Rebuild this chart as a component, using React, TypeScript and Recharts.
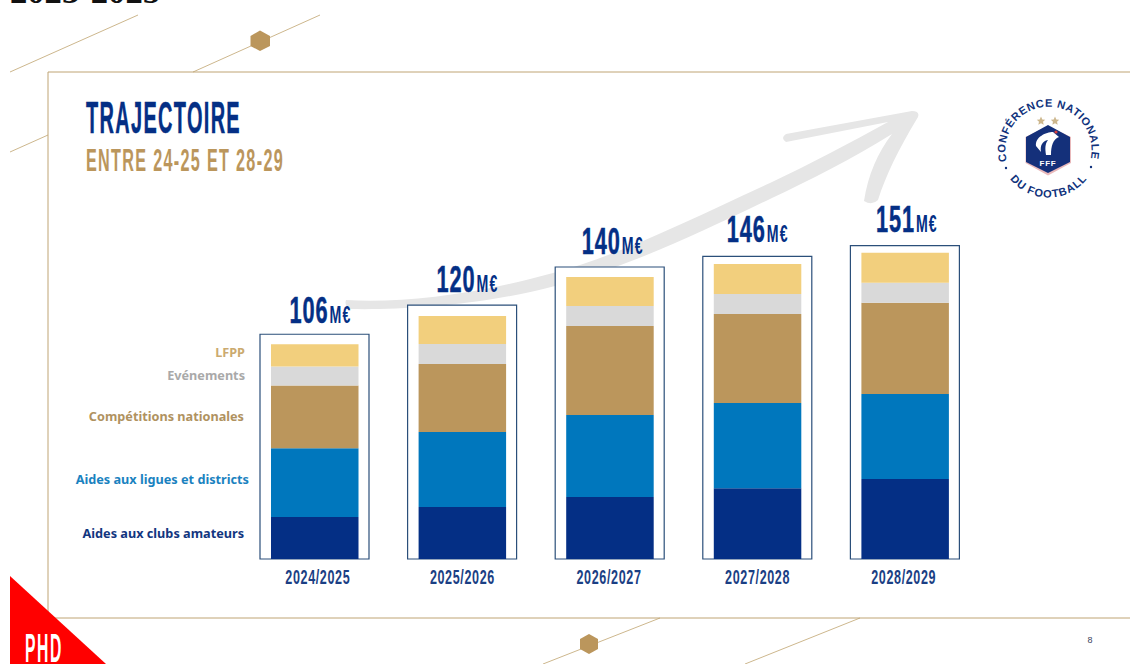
import React from "react";
import { Bar, BarChart, LabelList, XAxis, YAxis } from "recharts";

const seasons = ["2024/2025", "2025/2026", "2026/2027", "2027/2028", "2028/2029"];
const clubsAmateurs = [20.7, 25.7, 30.6, 35, 39.5];
const liguesDistricts = [34, 37, 40.5, 42, 42];
const competitions = [31, 33.6, 44, 44, 45];
const evenements = [9.4, 9.9, 9.9, 9.9, 9.9];
const lfpp = [10.9, 13.8, 14.3, 14.8, 14.8];
// hauteur du cadre autour de chaque colonne, en M€
const cadre = [111, 125.4, 144.2, 149.4, 154.8];
const totals = [106, 120, 140, 146, 151];

const legendLabels = ["LFPP", "Evénements", "Compétitions nationales", "Aides aux ligues et districts", "Aides aux clubs amateurs"];

const NAVY = "#042f85";
const GOLD = "#bb965c";
const FONT = "'Liberation Sans', Arial, sans-serif";

const chartData = seasons.map((season, i) => ({
  season,
  clubs: clubsAmateurs[i],
  ligues: liguesDistricts[i],
  competitions: competitions[i],
  evenements: evenements[i],
  lfpp: lfpp[i],
  cadre: cadre[i],
  total: totals[i],
}));

// petits decalages des textes par rapport aux colonnes
const totalDx = [6, 5.5, 3, 0.5, 2];
const totalDy = [11, 13, 13, 14, 14];
const tickDx = [3, 0, -1, 0, -1.5];

function SeasonTick({ x, y, payload, index }: any) {
  return (
    <text
      x={x + tickDx[index ?? payload.index ?? 0]}
      y={y + 17}
      textAnchor="middle"
      textLength={65}
      lengthAdjust="spacingAndGlyphs"
      letterSpacing={1}
      fontFamily={FONT}
      fontWeight={700}
      fontSize={20}
      fill="#1b3f84"
    >
      {payload.value}
    </text>
  );
}

function TotalLabel({ x, y, width, index }: any) {
  const cx = x + width / 2 + totalDx[index];
  const base = y - totalDy[index];
  return (
    <g>
      <text
        x={cx - 31}
        y={base}
        textLength={39}
        lengthAdjust="spacingAndGlyphs"
        letterSpacing={1.5}
        fontFamily={FONT}
        fontWeight={700}
        fontSize={36}
        fill={NAVY}
        stroke={NAVY}
        strokeWidth={0.5}
      >
        {totals[index]}
      </text>
      <text
        x={cx + 9}
        y={base}
        textLength={22}
        lengthAdjust="spacingAndGlyphs"
        letterSpacing={2}
        fontFamily={FONT}
        fontWeight={700}
        fontSize={24}
        fill={NAVY}
      >
        M€
      </text>
    </g>
  );
}

function Backdrop() {
  return (
    <svg width={1130} height={664} style={{ position: "absolute", left: 0, top: 0 }}>
      <text x={10} y={3} fontFamily="'Liberation Serif', serif" fontWeight={700} fontSize={34} fill="#111" textLength={150} lengthAdjust="spacingAndGlyphs">
        2023-2025
      </text>

      <g stroke="#cdb78d" strokeWidth={1} fill="none">
        <line x1={10} y1={72} x2={138} y2={15} />
        <line x1={193} y1={72} x2={320} y2={15} />
        <line x1={10} y1={152} x2={48} y2={135} />
        <line x1={543} y1={664} x2={660} y2={618} />
        <line x1={745} y1={664} x2={860} y2={618} />
      </g>
      <g stroke="#bfa475" strokeWidth={1} fill="none">
        <line x1={48} y1={72} x2={1130} y2={72} />
        <line x1={48} y1={72} x2={48} y2={612} />
        <line x1={48} y1={618} x2={1130} y2={618} />
      </g>
      <polygon points="260,30.5 270,36 270,46 260,51 250.5,46 250.5,36" fill={GOLD} />
      <polygon points="589,634 598,639 598,649 589,654 580,649 580,639" fill={GOLD} />

      <path
        d="M346 300 C 400 303, 470 296, 553 273 C 620 255, 690 220, 770 183 C 810 164, 850 143, 888 122 L 786 142 Q 780 138, 786 134 L 912 111 Q 920 111, 918 117 C 898 150, 886 175, 878 200 Q 872 206, 864 201 C 868 175, 878 152, 892 134 C 850 160, 810 180, 772 198 C 695 235, 625 268, 555 286 C 480 306, 400 310, 350 309 Q 344 306, 346 300 Z"
        fill="#e6e6e6"
      />

      <text x={86} y={133} textLength={155} lengthAdjust="spacingAndGlyphs" letterSpacing={3} fontFamily={FONT} fontWeight={700} fontSize={45} fill={NAVY} stroke={NAVY} strokeWidth={0.5}>
        TRAJECTOIRE
      </text>
      <text x={86} y={171} textLength={198} lengthAdjust="spacingAndGlyphs" letterSpacing={2.5} fontFamily={FONT} fontWeight={700} fontSize={31} fill={GOLD}>
        ENTRE 24-25 ET 28-29
      </text>

      <g fontFamily="'Noto Sans', sans-serif" fontWeight={700} fontSize={12.7} textAnchor="end">
        <text x={245} y={357} fill="#cbaa6f">{legendLabels[0]}</text>
        <text x={245} y={380} fill="#a9a9a9">{legendLabels[1]}</text>
        <text x={244} y={421} fill="#b0925f">{legendLabels[2]}</text>
        <text x={249} y={484} fill="#1a82c0">{legendLabels[3]}</text>
        <text x={244} y={538} fill="#12367f">{legendLabels[4]}</text>
      </g>

      <polygon points="10,576 106,664 10,664" fill="#ff0000" />
      <text x={25} y={662} textLength={38} lengthAdjust="spacingAndGlyphs" letterSpacing={4} fontFamily={FONT} fontWeight={700} fontSize={40} fill="#ffffff">
        PHD
      </text>
      <text x={1090} y={643} textAnchor="middle" fontFamily={FONT} fontSize={9} fill="#3a3f5c">
        8
      </text>

      <Logo />
    </svg>
  );
}

function Logo() {
  return (
    <g>
      <defs>
        <path id="arcTop" d="M1007 161 A 43 43 0 1 1 1090 161" />
        <path id="arcBottom" d="M1006 173 A 49 49 0 0 0 1091 173" />
      </defs>
      <text fontFamily={FONT} fontWeight={700} fontSize={11} fill="#10327c">
        <textPath href="#arcTop" textLength={155} lengthAdjust="spacing">CONFÉRENCE NATIONALE</textPath>
      </text>
      <text fontFamily={FONT} fontWeight={700} fontSize={11} fill="#10327c">
        <textPath href="#arcBottom" textLength={88} lengthAdjust="spacing" startOffset={7}>DU FOOTBALL</textPath>
      </text>
      <circle cx={1006} cy={168} r={1.2} fill="#10327c" />
      <circle cx={1091} cy={167} r={1.2} fill="#10327c" />
      <polygon points="1041,116.5 1042.3,119.5 1045.2,119.8 1043,121.8 1043.7,124.8 1041,123.2 1038.3,124.8 1039,121.8 1036.8,119.8 1039.7,119.5" fill="#cdb78d" />
      <polygon points="1055,116.5 1056.3,119.5 1059.2,119.8 1057,121.8 1057.7,124.8 1055,123.2 1052.3,124.8 1053,121.8 1050.8,119.8 1053.7,119.5" fill="#cdb78d" />
      <polygon points="1048,126 1071,137 1071,163 1048,175.5 1025.5,163 1025.5,137" fill="#e9b9bb" />
      <polygon points="1048,125 1070,137 1070,162 1048,173 1026,162 1026,137" fill="#14307a" />
      <path d="M1036 146 C 1035 137, 1046 132, 1053 132 L 1059 137 C 1053 139, 1051 146, 1051 155 L 1046 155 C 1045 148, 1045 144, 1048 140 C 1042 141, 1040 146, 1041 152 Z" fill="#ffffff" />
      <circle cx={1056} cy={132} r={1.6} fill="#d8413f" />
      <text x={1048} y={166} textAnchor="middle" fontFamily={FONT} fontWeight={700} fontSize={8} letterSpacing={0.8} fill="#ffffff">
        FFF
      </text>
    </g>
  );
}

export default function App() {
  return (
    <div style={{ position: "absolute", left: 0, top: 0, width: 1130, height: 664, background: "#ffffff", overflow: "hidden" }}>
      <Backdrop />
      <div style={{ position: "absolute", left: 0, top: 0 }}>
        <BarChart width={1130} height={664} data={chartData} margin={{ top: 154, right: 151, bottom: 75, left: 241 }}>
          <XAxis dataKey="season" height={30} axisLine={false} tickLine={false} interval={0} tick={<SeasonTick />} />
          <XAxis dataKey="season" xAxisId="cadre" hide />
          <YAxis hide domain={[0, 200]} />
          <Bar dataKey="cadre" xAxisId="cadre" barSize={109} fill="#ffffff" stroke="#2b4f7a" strokeWidth={1.2} isAnimationActive={false}>
            <LabelList dataKey="total" content={<TotalLabel />} />
          </Bar>
          <Bar dataKey="clubs" stackId="a" barSize={87.5} fill="#042f85" isAnimationActive={false} />
          <Bar dataKey="ligues" stackId="a" barSize={87.5} fill="#0077bd" isAnimationActive={false} />
          <Bar dataKey="competitions" stackId="a" barSize={87.5} fill="#bb965c" isAnimationActive={false} />
          <Bar dataKey="evenements" stackId="a" barSize={87.5} fill="#d9d9d9" isAnimationActive={false} />
          <Bar dataKey="lfpp" stackId="a" barSize={87.5} fill="#f2cf7d" isAnimationActive={false} />
        </BarChart>
      </div>
    </div>
  );
}
